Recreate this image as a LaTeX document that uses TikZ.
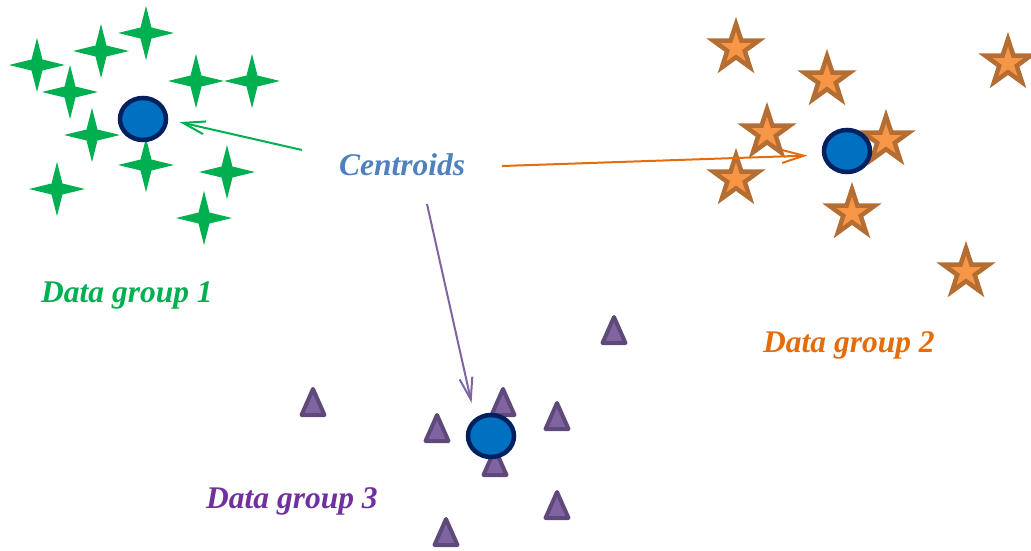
\documentclass[tikz,border=0pt]{standalone}
\usepackage{fontspec}
\setmainfont{Liberation Serif}
\usetikzlibrary{arrows.meta,shapes.geometric}

\definecolor{grp1}{HTML}{00B050}
\definecolor{grp2}{HTML}{E46C0A}
\definecolor{grp3}{HTML}{7030A0}
\definecolor{starline}{HTML}{B46E33}
\definecolor{starfill}{HTML}{F79646}
\definecolor{triline}{HTML}{5F497A}
\definecolor{trifill}{HTML}{8064A2}
\definecolor{cfill}{HTML}{0070C0}
\definecolor{cline}{HTML}{002060}
\definecolor{labelblue}{HTML}{4F81BD}

\tikzset{
  % four-pointed green marker
  fourstar/.pic={
    \fill[grp1] (0,-27) -- (5.5,-5.5) -- (28,0) -- (5.5,5.5) -- (0,27)
      -- (-5.5,5.5) -- (-28,0) -- (-5.5,-5.5) -- cycle;
  },
  % five-pointed orange marker
  fivestar/.pic={
    \filldraw[draw=starline,fill=starfill,line width=4.5pt,line join=miter]
      (-90:24) -- (-54:9.2) -- (-18:24) -- (18:9.2) -- (54:24) -- (90:9.2)
      -- (126:24) -- (162:9.2) -- (198:24) -- (234:9.2) -- cycle;
  },
  % purple triangle marker
  tri/.pic={
    \filldraw[draw=triline,fill=trifill,line width=4pt,line join=round]
      (0,-14) -- (11.5,12) -- (-11.5,12) -- cycle;
  },
  centroid/.style={ellipse,draw=cline,fill=cfill,line width=4.5pt,
    minimum width=46pt,minimum height=42pt,inner sep=0pt,outer sep=0pt},
  grouplabel/.style={anchor=base west,inner sep=0pt,
    font=\fontsize{31.5}{38}\selectfont\bfseries\itshape},
  pointer/.style={line width=2pt,
    -{Straight Barb[length=22pt,width=13pt,line width=2pt]}},
}

\begin{document}
\begin{tikzpicture}[x=1pt,y=-1pt]
\useasboundingbox (0,0) rectangle (1031,550);

% group 1 points
\foreach \p in {(37,65),(101,51),(146,33),(70,92),(196,81),(252,81),
                (92,135),(146,165),(57,189),(227,172),(204,218)}
  \pic at \p {fourstar};

% group 2 points
\foreach \p in {(736,48),(827,80),(1008,63),(767,133),(886,140),
                (736,179),(852,213),(966,272)}
  \pic at \p {fivestar};

% group 3 points
\foreach \p in {(313,403),(614,331),(437,429),(503,403),(557,417),
                (495,463),(557,506),(446,533)}
  \pic at \p {tri};

% centroids
\node[centroid] (c1) at (143,119) {};
\node[centroid] (c2) at (847,151) {};
\node[centroid] (c3) at (491,436) {};

% labels
\node[grouplabel,text=labelblue] (cent) at (339,175) {Centroids};
\node[grouplabel,text=grp1] (g1) at (41,302) {Data group 1};
\node[grouplabel,text=grp2] (g2) at (763,352) {Data group 2};
\node[grouplabel,text=grp3] (g3) at (206,508) {Data group 3};

% arrow tails next to the label
\coordinate (s1) at (302,150);
\coordinate (s2) at (502,166);
\coordinate (s3) at (427,204);

\draw[pointer,draw=grp1,shorten >=14pt] (s1) -- (c1.east);
\draw[pointer,draw=grp2,shorten >=17pt] (s2) -- (c2.190);
\draw[pointer,draw=trifill,shorten >=18pt] (s3) -- (c3.135);
\end{tikzpicture}
\end{document}
